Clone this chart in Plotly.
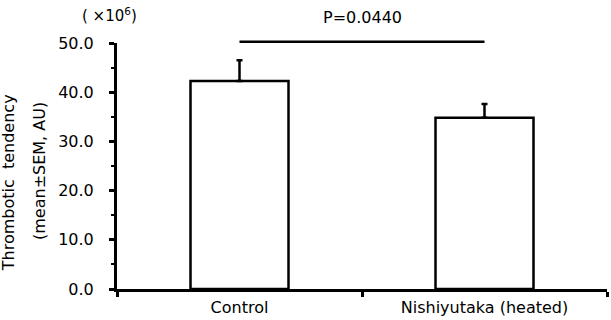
import plotly.graph_objects as go

categories = ["Control", "Nishiyutaka (heated)"]
means = [42.3, 34.8]
sem = [4.2, 2.8]
y_ticks = [0, 10, 20, 30, 40, 50]
y_tick_labels = ["0.0", "10.0", "20.0", "30.0", "40.0", "50.0"]
p_label = "P=0.0440"
sig_level = 50.25
y_max = 50

FONT = "DejaVu Sans"

fig = go.Figure()
fig.add_trace(go.Bar(
    x=categories, y=means, width=0.4,
    marker=dict(color="white", line=dict(color="black", width=2.5)),
    error_y=dict(type="data", symmetric=False, array=sem, arrayminus=[0] * len(sem),
                 color="black", thickness=2.5, width=3),
    showlegend=False,
))

# significance bar between the two bar centres
fig.add_shape(type="line", xref="x", yref="paper",
              x0=categories[0], x1=categories[1],
              y0=sig_level / y_max, y1=sig_level / y_max,
              line=dict(color="black", width=2.5))

fig.add_annotation(x=0.5, xref="x", y=1.105, yref="paper", text=p_label,
                   showarrow=False, font=dict(family=FONT, size=16, color="black"),
                   xanchor="center", yanchor="middle")
fig.add_annotation(x=-0.0143, xref="paper", y=1.114, yref="paper",
                   text="( ×10<sup>6</sup>)", showarrow=False,
                   font=dict(family=FONT, size=15, color="black"),
                   xanchor="center", yanchor="middle")
fig.add_annotation(x=-0.221, xref="paper", y=0.433, yref="paper",
                   text="Thrombotic  tendency", textangle=-90, showarrow=False,
                   font=dict(family=FONT, size=16, color="black"),
                   xanchor="center", yanchor="middle")
fig.add_annotation(x=-0.157, xref="paper", y=0.48, yref="paper",
                   text="(mean±SEM, AU)", textangle=-90, showarrow=False,
                   font=dict(family=FONT, size=16, color="black"),
                   xanchor="center", yanchor="middle")

fig.update_layout(
    template="none",
    width=611, height=320,
    margin=dict(l=117, r=4, t=43, b=31, pad=0, autoexpand=False),
    paper_bgcolor="white", plot_bgcolor="white",
    font=dict(family=FONT, size=16, color="black"),
    bargap=0.6,
)
fig.update_xaxes(
    type="category", range=[-0.5, 1.5], automargin=False,
    showline=True, linecolor="black", linewidth=3,
    ticks="outside", tickson="boundaries", ticklen=5, tickwidth=2.5, tickcolor="black",
    showgrid=False, zeroline=False,
    tickfont=dict(family=FONT, size=16, color="black"),
    ticklabelstandoff=2,
)
fig.update_yaxes(
    range=[0, y_max], tickvals=y_ticks, ticktext=y_tick_labels, automargin=False,
    showline=True, linecolor="black", linewidth=3,
    ticks="outside", ticklen=5, tickwidth=2.5, tickcolor="black",
    minor=dict(dtick=5, ticks="outside", ticklen=3, tickwidth=2, tickcolor="black", showgrid=False),
    showgrid=False, zeroline=False,
    tickfont=dict(family=FONT, size=16, color="black"),
    ticklabelstandoff=12,
)

fig.write_html("out.html", config={"displayModeBar": False},
               post_script="document.body.style.margin='0';")
